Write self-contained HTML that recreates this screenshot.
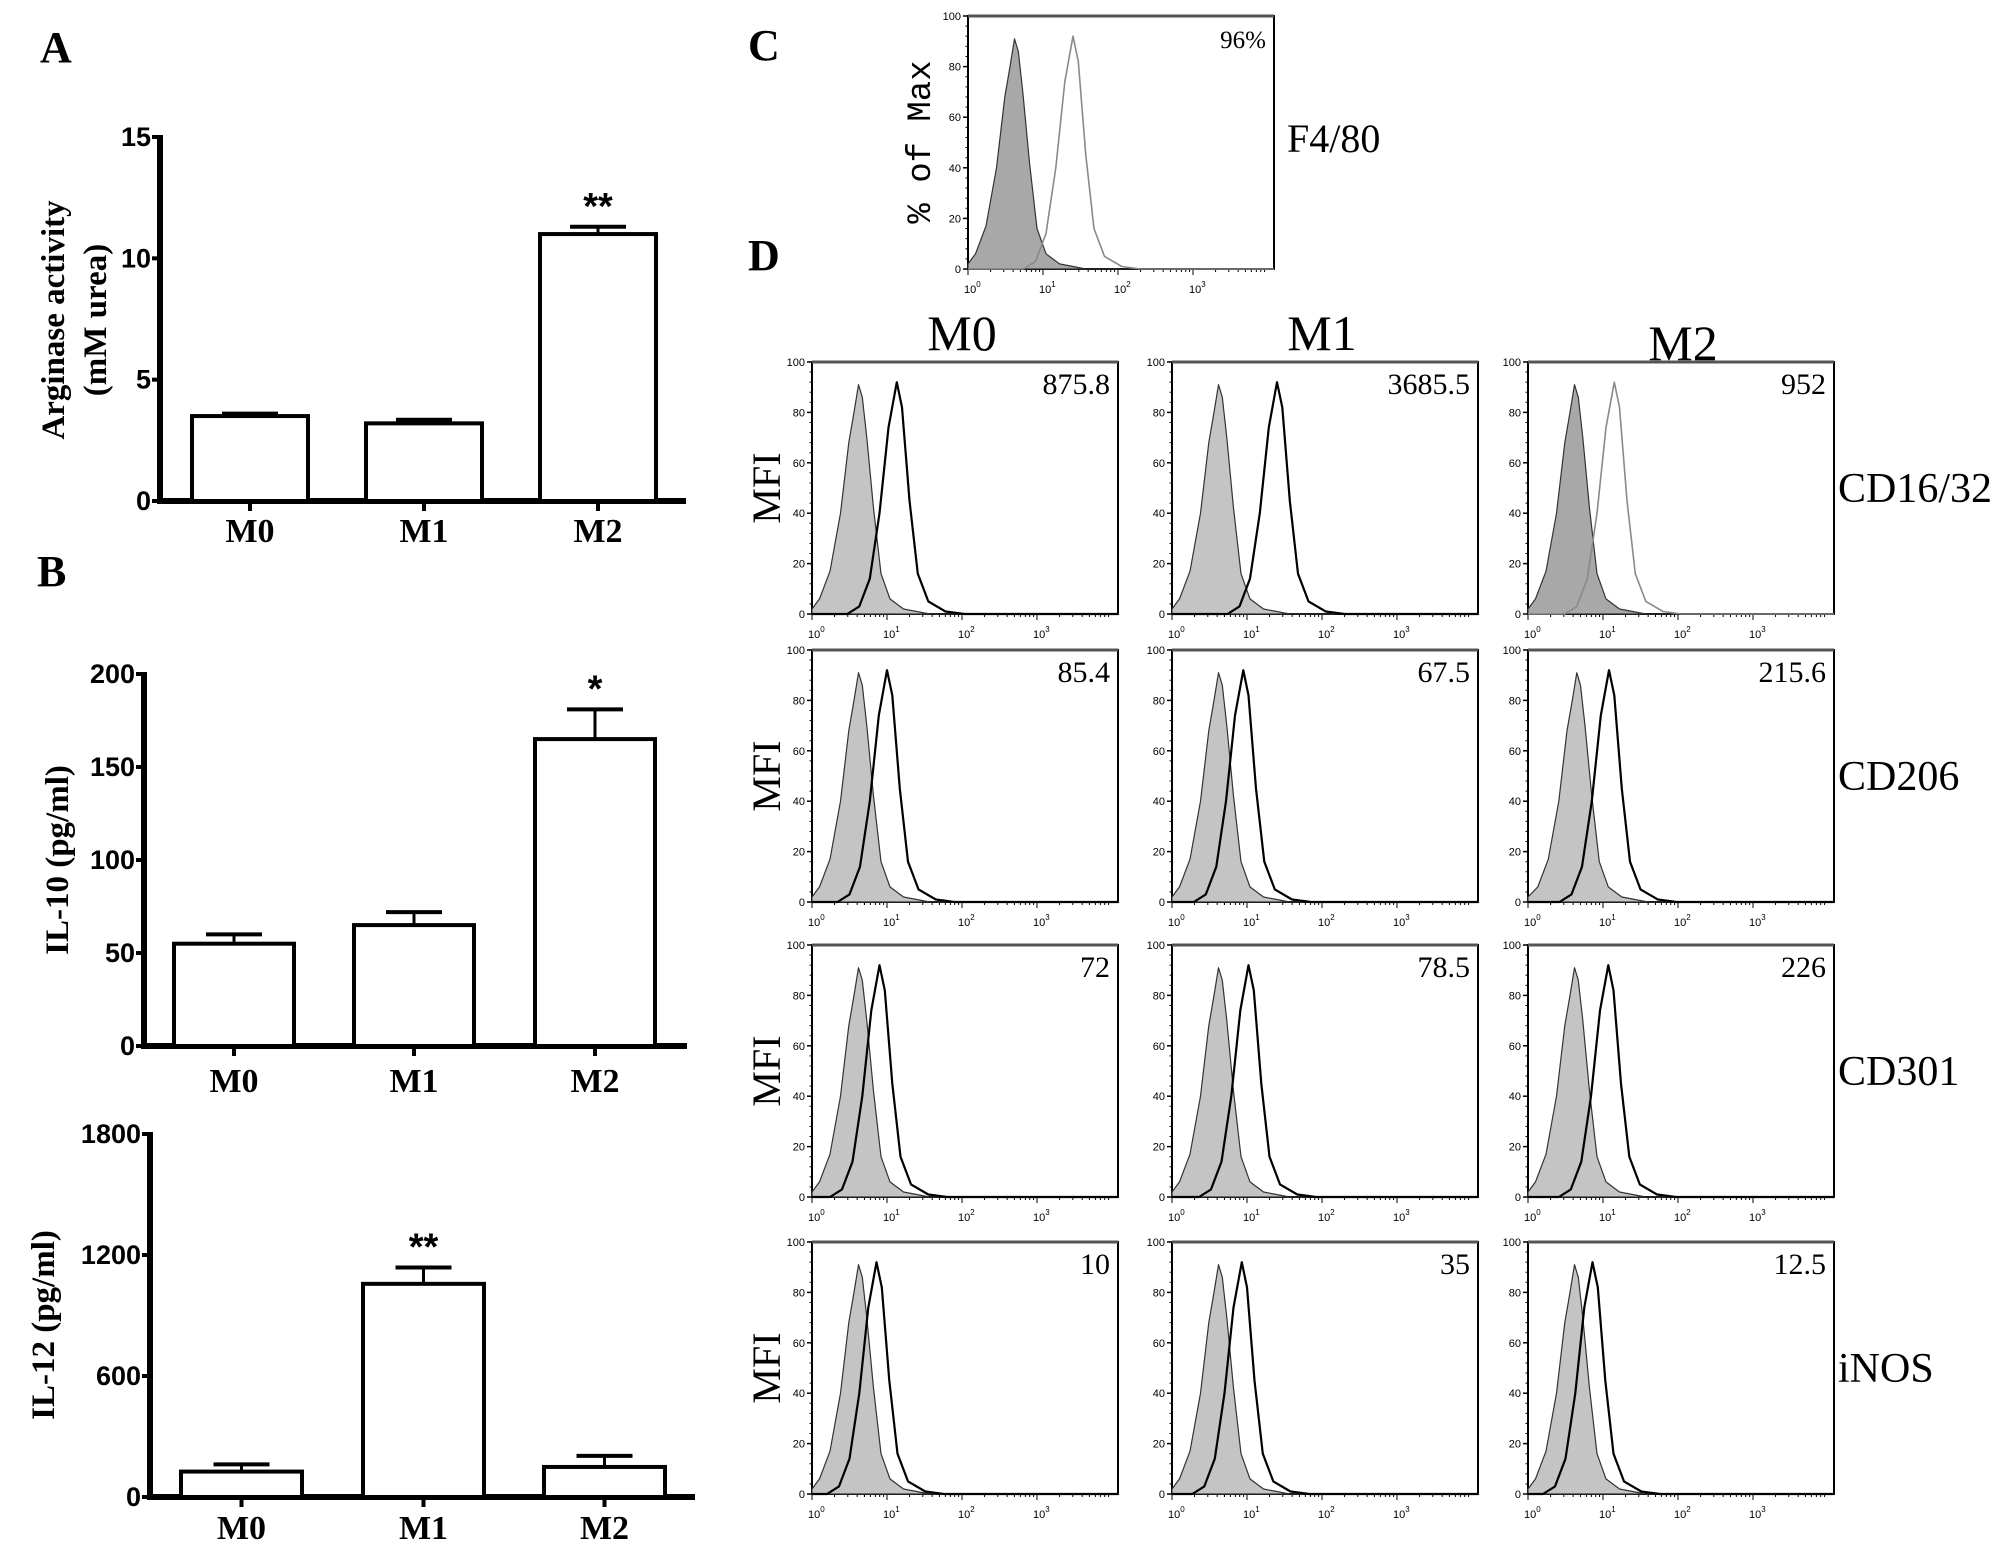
<!DOCTYPE html>
<html><head><meta charset="utf-8"><style>
html,body{margin:0;padding:0;background:#fff;}
svg{display:block;}
</style></head><body>
<svg id="fig" width="2010" height="1553" viewBox="0 0 2010 1553" xmlns="http://www.w3.org/2000/svg"></svg>
<script>
// ---- Bar chart data ----
const barCats = ['M0','M1','M2'];
const argVals = [3.5, 3.2, 11.0];
const argErr = [0.1, 0.15, 0.3];
const argTicks = [0, 5, 10, 15];
const il10Vals = [55, 65, 165];
const il10Err = [5, 7, 16];
const il10Ticks = [0, 50, 100, 150, 200];
const il12Vals = [126, 1057, 149];
const il12Err = [36, 81, 55];
const il12Ticks = [0, 600, 1200, 1800];
const argStars = ['', '', '**'];
const il10Stars = ['', '', '*'];
const il12Stars = ['', '**', ''];

// ---- Flow histogram data ----
const isoShape = [[-0.66,2],[-0.52,6],[-0.38,17],[-0.24,40],[-0.13,68],[-0.06,80],[0,91],[0.05,86],[0.11,70],[0.2,42],[0.3,16],[0.42,6],[0.6,2],[0.95,0]];
const posShape = [[-0.66,0],[-0.5,3],[-0.36,14],[-0.23,40],[-0.11,74],[0,92],[0.07,82],[0.17,45],[0.28,16],[0.42,5],[0.65,1],[0.9,0]];
const rowLabels = ['CD16/32','CD206','CD301','iNOS'];
const colLabels = ['M0','M1','M2'];
const mfiValues = [['875.8','3685.5','952'],['85.4','67.5','215.6'],['72','78.5','226'],['10','35','12.5']];
const isoPeaks = [[0.62,0.62,0.62],[0.62,0.62,0.65],[0.62,0.62,0.62],[0.62,0.62,0.62]];
const posPeaks = [[1.13,1.4,1.15],[1.0,0.95,1.08],[0.9,1.02,1.07],[0.86,0.93,0.86]];
const cIso = 0.62, cPos = 1.4, cLabel = '96%';
const yTicksFlow = [0,20,40,60,80,100];
const xDecades = [0,1,2,3];

const NS='http://www.w3.org/2000/svg';
const svg=document.getElementById('fig');
function mk(tag, attrs, parent){const e=document.createElementNS(NS,tag);for(const k in attrs)e.setAttribute(k,attrs[k]);(parent||svg).appendChild(e);return e;}
function txt(s, attrs, parent){const e=mk('text',attrs,parent);e.textContent=s;return e;}

function barChart(name, o, vals, errs, ticks, stars, ytitle){
  const g=mk('g',{});
  
  
  const maxV=ticks[ticks.length-1];
  const y=v=>o.y0-(v/maxV)*(o.y0-o.y1);
  const ya=mk('line',{x1:o.ax,y1:o.y1-2,x2:o.ax,y2:o.y0+3,stroke:'#000','stroke-width':6},g);
  
  const xa=mk('line',{x1:o.ax-3,y1:o.y0,x2:o.xend,y2:o.y0,stroke:'#000','stroke-width':6},g);
  
  ticks.forEach(t=>{
    mk('line',{x1:o.ax-8,y1:y(t),x2:o.ax,y2:y(t),stroke:'#000','stroke-width':4},g);
    const tl=txt(String(t),{x:o.ax-9,y:y(t)+9,'text-anchor':'end','font-family':'Liberation Sans, sans-serif','font-weight':'bold','font-size':o.tfs||27},g);
    
  });
  vals.forEach((v,i)=>{
    const x0=o.bx[i], w=o.bw, cx=x0+w/2;
    const b=mk('rect',{x:x0,y:y(v),width:w,height:o.y0-y(v),fill:'#fff',stroke:'#000','stroke-width':4},g);
    
    const et=y(v+errs[i]);
    mk('line',{x1:cx,y1:y(v),x2:cx,y2:et,stroke:'#000','stroke-width':3},g);
    mk('line',{x1:cx-28,y1:et,x2:cx+28,y2:et,stroke:'#000','stroke-width':4},g);
    mk('line',{x1:cx,y1:o.y0,x2:cx,y2:o.y0+10,stroke:'#000','stroke-width':4},g);
    const cl=txt(barCats[i],{x:cx,y:o.ly,'text-anchor':'middle','font-family':'Liberation Serif, serif','font-weight':'bold','font-size':34},g);
    
    if(stars[i]){const s=txt(stars[i],{x:cx,y:et-8,'text-anchor':'middle','font-family':'Liberation Sans, sans-serif','font-weight':'bold','font-size':38},g);
      }
  });
  const tt=mk('text',{transform:`translate(${o.tx},${o.ty}) rotate(-90)`,'text-anchor':'middle','font-family':'Liberation Serif, serif','font-weight':'bold','font-size':o.tsz||32},g);
  
  ytitle.forEach((line,k)=>{const ts=mk('tspan',{x:0,dy:k===0?0:42},tt);ts.textContent=line;});
}

[['A',40,62],['B',37,586],['C',748,60],['D',748,270]].forEach(([s,x,yy])=>{
  const t=txt(s,{x:x,y:yy,'font-family':'Liberation Serif, serif','font-weight':'bold','font-size':44});
  
});

barChart('arginase-chart',{ax:160,y0:501,y1:137,xend:686,bx:[192,366,540],bw:116,ly:542,tx:64,ty:320,tsz:33},argVals,argErr,argTicks,argStars,['Arginase activity','(mM urea)']);
barChart('il10-chart',{ax:144,y0:1046,y1:674,xend:687,bx:[174,354,535],bw:120,ly:1092,tx:68,ty:860,tsz:33},il10Vals,il10Err,il10Ticks,il10Stars,['IL-10 (pg/ml)']);
barChart('il12-chart',{ax:150,y0:1497,y1:1134,xend:695,bx:[181,363,544],bw:121,ly:1539,tx:54,ty:1325,tsz:33},il12Vals,il12Err,il12Ticks,il12Stars,['IL-12 (pg/ml)']);

function histogram(name, bx, by, bw, bh, iso, pos, label, light){
  const g=mk('g',{});
  
  
  const dec=4.08;
  const X=l=>bx+(Math.max(0,Math.min(dec,l))/dec)*bw;
  const Y=p=>by+bh-(p/100)*bh;
  const box=mk('rect',{x:bx,y:by,width:bw,height:bh,fill:'none',stroke:'#000','stroke-width':2},g);
  
  mk('line',{x1:bx,y1:by,x2:bx+bw,y2:by,stroke:'#555','stroke-width':3},g);
  yTicksFlow.forEach(t=>{
    mk('line',{x1:bx-5,y1:Y(t),x2:bx,y2:Y(t),stroke:'#000','stroke-width':1.5},g);
    const tl=txt(String(t),{x:bx-7,y:Y(t)+4,'text-anchor':'end','font-family':'Liberation Sans Narrow, Liberation Sans, sans-serif','font-size':11},g);
    
  });
  for(let t=0;t<100;t+=4) mk('line',{x1:bx-2.5,y1:Y(t),x2:bx,y2:Y(t),stroke:'#000','stroke-width':1},g);
  for(let d=0;d<4;d++){for(let m=1;m<10;m++){const l=d+Math.log10(m);if(l>dec)break;
    mk('line',{x1:X(l),y1:by+bh,x2:X(l),y2:by+bh+(m===1?6:3),stroke:'#000','stroke-width':1},g);}}
  xDecades.forEach(d=>{
    const t=mk('text',{x:X(d)-4,y:by+bh+24,'font-family':'Liberation Sans Narrow, Liberation Sans, sans-serif','font-size':11},g);
    
    const a=mk('tspan',{},t);a.textContent='10';const b=mk('tspan',{dy:-6,'font-size':8},t);b.textContent=String(d);
  });
  const pts=(shape,pk)=>{let s=[[0,shape[0][1]]];shape.forEach(([o,p])=>{if(pk+o>0)s.push([pk+o,p]);});s.push([dec,0]);return s;};
  const ip=pts(isoShape,iso);
  let d='M'+X(0)+','+Y(0)+' '+ip.map(([l,p])=>'L'+X(l).toFixed(1)+','+Y(p).toFixed(1)).join(' ')+' L'+X(dec)+','+Y(0)+' Z';
  const f=mk('path',{d:d,fill:light?'#a8a8a8':'#c4c4c4',stroke:'#333','stroke-width':1.2,'stroke-linejoin':'round'},g);
  
  const pp=pts(posShape,pos);
  const l=mk('polyline',{points:pp.map(([l,p])=>X(l).toFixed(1)+','+Y(p).toFixed(1)).join(' '),fill:'none',stroke:light?'#8a8a8a':'#000','stroke-width':light?1.6:2.2,'stroke-linejoin':'round'},g);
  
  const v=txt(label,{x:bx+bw-8,y:by+32,'text-anchor':'end','font-family':'Liberation Serif, serif','font-size':label.endsWith('%')?25:30},g);
  
}

histogram('f4-80-histogram',968,16,306,253,cIso,cPos,cLabel,true);
const ct=txt('% of Max',{transform:'translate(930,142) rotate(-90)','text-anchor':'middle','font-family':'Liberation Mono, monospace','font-size':34});

const f48=txt('F4/80',{x:1287,y:152,'font-family':'Liberation Serif, serif','font-size':40});


const colX=[812,1172,1528], rowY=[362,650,945,1242], BW=306, BH=252;
colLabels.forEach((c,j)=>{
  const t=txt(c,{x:colX[j]+150+(j===2?5:0),y:350+(j===2?10:0),'text-anchor':'middle','font-family':'Liberation Serif, serif','font-size':50});
  
});
rowLabels.forEach((r,i)=>{
  colLabels.forEach((c,j)=>{
    histogram('histogram-'+r.toLowerCase().replace('/','-')+'-'+c.toLowerCase(),colX[j],rowY[i],BW,BH,isoPeaks[i][j],posPeaks[i][j],mfiValues[i][j],i===0&&j===2);
  });
  const m=txt('MFI',{transform:`translate(780,${rowY[i]+126}) rotate(-90)`,'text-anchor':'middle','font-family':'Liberation Serif, serif','font-size':40});
  
  const rl=txt(r,{x:1838,y:rowY[i]+126+14,'font-family':'Liberation Serif, serif','font-size':42});
  
});
</script>
</body></html>
